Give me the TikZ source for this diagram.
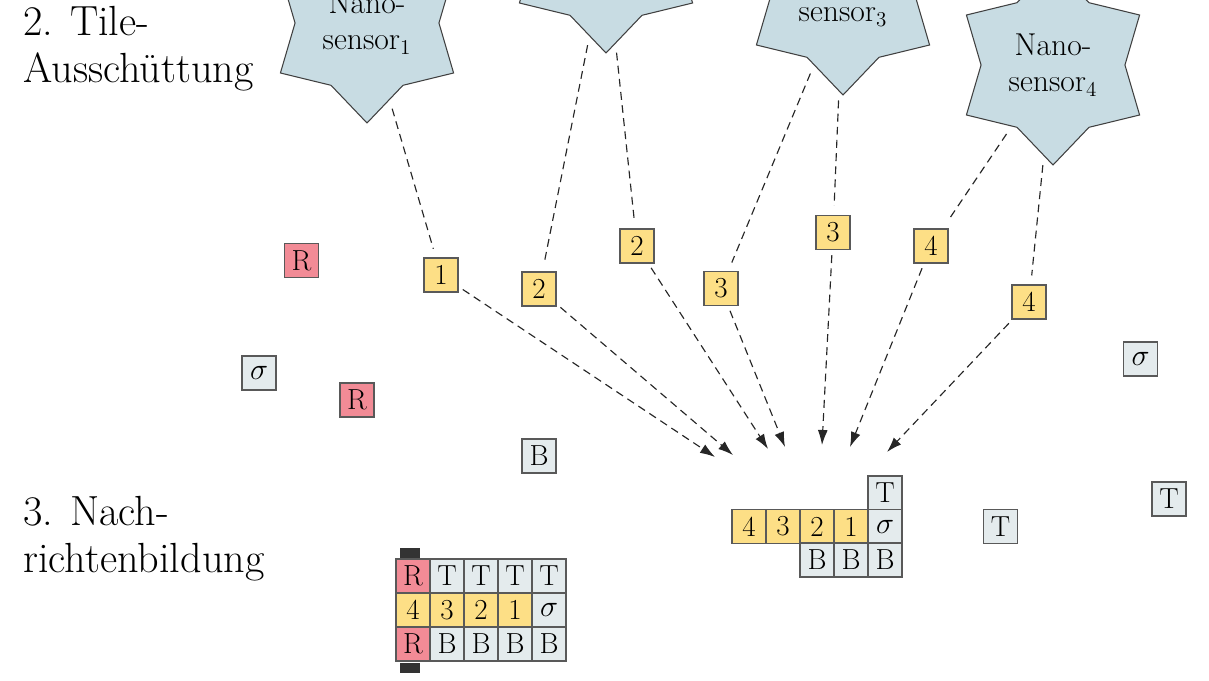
\documentclass[tikz,border=0pt]{standalone}
\usetikzlibrary{arrows.meta,shapes.geometric}

\definecolor{starblue}{HTML}{C8DCE3}
\definecolor{tilered}{HTML}{F28B96}
\definecolor{tileyellow}{HTML}{FDDF86}
\definecolor{tilegray}{HTML}{E4EBED}

\tikzset{
  tile/.style={draw=black!65, line width=0.7pt, minimum size=0.68cm, inner sep=0pt,
    font=\fontsize{16.5}{19}\selectfont},
  rtile/.style={tile, fill=tilered},
  ntile/.style={tile, fill=tileyellow},
  gtile/.style={tile, fill=tilegray},
  sensor/.style={star, star points=6, star point ratio=1.39, minimum size=4cm,
    inner sep=0pt, draw=black!75, line width=0.6pt, fill=starblue, align=center,
    font=\fontsize{18}{21}\selectfont},
  drop/.style={dash pattern=on 4.5pt off 3pt, line width=0.65pt, draw=black!85},
  phase/.style={align=left, anchor=base west, inner sep=0pt,
    font=\fontsize{24}{26.7}\selectfont}
}

\begin{document}
\begin{tikzpicture}[x=0.02cm, y=-0.02cm]
      \useasboundingbox (0, 0) rectangle (1209, 680);

      \node[phase] (ph2) at (23, 82) {2. Tile-\\Ausschüttung};
      \node[phase] (ph3) at (23, 572) {3. Nach-\\richtenbildung};

      \node[sensor] (s1) at (367, 23) {Nano-\\sensor$_1$};
      \node[sensor] (s2) at (606, -47) {Nano-\\sensor$_2$};
      \node[sensor] (s3) at (843, -5) {Nano-\\sensor$_3$};
      \node[sensor] (s4) at (1053, 65) {Nano-\\sensor$_4$};

      \node[rtile] (r1) at (301.5, 260.5) {R};
      \node[rtile] (r2) at (357, 400) {R};
      \node[gtile] (g1) at (259, 373) {$\sigma$};
      \node[gtile] (g2) at (539, 456) {B};
      \node[gtile] (g3) at (1140.5, 359) {$\sigma$};
      \node[gtile] (g4) at (1169, 499) {T};
      \node[gtile] (g5) at (1000.5, 526.5) {T};

      \node[ntile] (n1) at (441, 275) {1};
      \node[ntile] (n2a) at (539, 289) {2};
      \node[ntile] (n2b) at (637, 246) {2};
      \node[ntile] (n3a) at (721, 288.5) {3};
      \node[ntile] (n3b) at (833, 232.5) {3};
      \node[ntile] (n4a) at (931, 246) {4};
      \node[ntile] (n4b) at (1029, 302) {4};

      \draw[drop, shorten <=0.18cm, shorten >=0.18cm] (s1) -- (n1);
      \draw[drop, shorten <=0.18cm, shorten >=0.18cm] (s2) -- (n2a);
      \draw[drop, shorten <=0.18cm, shorten >=0.18cm] (s2) -- (n2b);
      \draw[drop, shorten <=0.18cm, shorten >=0.18cm] (s3) -- (n3a);
      \draw[drop, shorten <=0.18cm, shorten >=0.18cm] (s3) -- (n3b);
      \draw[drop, shorten <=0.18cm, shorten >=0.18cm] (s4) -- (n4a);
      \draw[drop, shorten <=0.18cm, shorten >=0.18cm] (s4) -- (n4b);

      \coordinate (e1) at (715, 457);
      \coordinate (e2) at (733, 455);
      \coordinate (e3) at (768, 449);
      \coordinate (e4) at (785, 447);
      \coordinate (e5) at (822, 445);
      \coordinate (e6) at (850, 447);
      \coordinate (e7) at (887, 452);

      \draw[drop, -{Latex[length=0.3cm, width=0.2cm]}, shorten <=0.1cm] (n1) -- (e1);
      \draw[drop, -{Latex[length=0.3cm, width=0.2cm]}, shorten <=0.1cm] (n2a) -- (e2);
      \draw[drop, -{Latex[length=0.3cm, width=0.2cm]}, shorten <=0.1cm] (n2b) -- (e3);
      \draw[drop, -{Latex[length=0.3cm, width=0.2cm]}, shorten <=0.1cm] (n3a) -- (e4);
      \draw[drop, -{Latex[length=0.3cm, width=0.2cm]}, shorten <=0.1cm] (n3b) -- (e5);
      \draw[drop, -{Latex[length=0.3cm, width=0.2cm]}, shorten <=0.1cm] (n4a) -- (e6);
      \draw[drop, -{Latex[length=0.3cm, width=0.2cm]}, shorten <=0.1cm] (n4b) -- (e7);

      \node[gtile] (pT) at (885, 493) {T};
      \node[ntile] (p4) at (749, 526.5) {4};
      \node[ntile] (p3) at (783, 526.5) {3};
      \node[ntile] (p2) at (817, 526.5) {2};
      \node[ntile] (p1) at (851, 526.5) {1};
      \node[gtile] (ps) at (885, 526.5) {$\sigma$};
      \node[gtile] (pB1) at (817, 560) {B};
      \node[gtile] (pB2) at (851, 560) {B};
      \node[gtile] (pB3) at (885, 560) {B};

      \fill[black!80] (400, 548) rectangle (420, 558);
      \fill[black!80] (400, 663) rectangle (420, 673);

      \node[rtile] (mR1) at (413, 576) {R};
      \node[gtile] (mT1) at (447, 576) {T};
      \node[gtile] (mT2) at (481, 576) {T};
      \node[gtile] (mT3) at (515, 576) {T};
      \node[gtile] (mT4) at (549, 576) {T};
      \node[ntile] (m4) at (413, 610) {4};
      \node[ntile] (m3) at (447, 610) {3};
      \node[ntile] (m2) at (481, 610) {2};
      \node[ntile] (m1) at (515, 610) {1};
      \node[gtile] (ms) at (549, 610) {$\sigma$};
      \node[rtile] (mR2) at (413, 644) {R};
      \node[gtile] (mB1) at (447, 644) {B};
      \node[gtile] (mB2) at (481, 644) {B};
      \node[gtile] (mB3) at (515, 644) {B};
      \node[gtile] (mB4) at (549, 644) {B};

    \end{tikzpicture}
\end{document}
